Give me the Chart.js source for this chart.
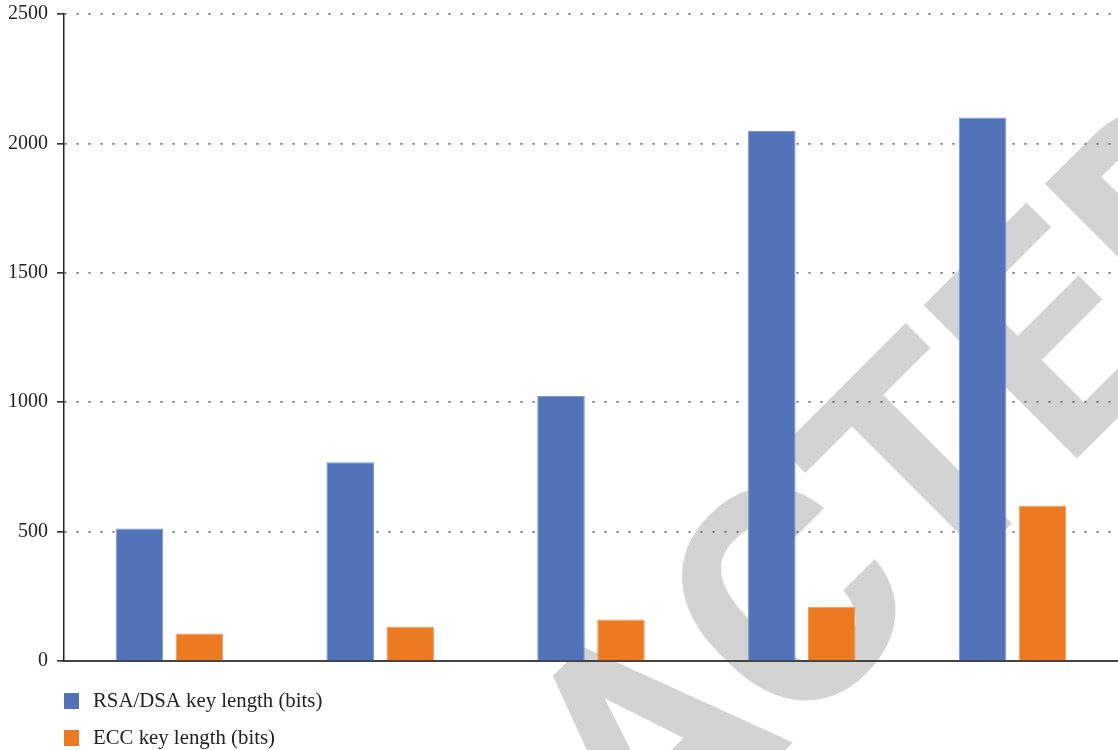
<!DOCTYPE html>
<html>
<head>
<meta charset="utf-8">
<script src="https://cdn.jsdelivr.net/npm/chart.js@4/dist/chart.umd.min.js"></script>
<style>
  html, body { margin: 0; padding: 0; background: #ffffff; }
  #wrap { position: relative; width: 1118px; height: 750px; }
  canvas { display: block; }
</style>
</head>
<body>
<div id="wrap"><canvas id="c" width="1118" height="750"></canvas></div>
<script>
// ---- data ----
const categories = ["1", "2", "3", "4", "5"];
const rsaLabel = "RSA/DSA key length (bits)";
const eccLabel = "ECC key length (bits)";
const rsaValues = [512, 768, 1024, 2048, 2100];
const eccValues = [106, 132, 160, 210, 600];
const yTicks = [0, 500, 1000, 1500, 2000, 2500];
const watermarkText = "RETRACTED";

const serif = "'Liberation Serif', 'Times New Roman', serif";
const wmFamily = "Roboto, 'Liberation Sans', Arial, sans-serif";

const watermarkPlugin = {
  id: 'watermark',
  beforeDraw(chart) {
    const ctx = chart.ctx;
    ctx.save();
    // size the watermark so that the glyph "T" is ~180px wide
    ctx.font = "bold 100px " + wmFamily;
    const t100 = ctx.measureText('T');
    const tw100 = t100.actualBoundingBoxRight + t100.actualBoundingBoxLeft;
    const size = 100 * 180 / tw100;
    ctx.font = "bold " + size + "px " + wmFamily;
    const pre = ctx.measureText('RETRAC').width;
    const tm = ctx.measureText('T');
    const tCenter = (tm.actualBoundingBoxRight - tm.actualBoundingBoxLeft) / 2;
    const startU = 328.6 - (pre + tCenter);
    const baseV = 866.5 + tm.actualBoundingBoxAscent;
    ctx.rotate(-Math.PI / 4);
    ctx.fillStyle = '#d3d3d3';
    ctx.textAlign = 'left';
    ctx.textBaseline = 'alphabetic';
    ctx.fillText(watermarkText, startU, baseV);
    ctx.restore();
  }
};

const legendPlugin = {
  id: 'stackLegend',
  afterDraw(chart) {
    const ctx = chart.ctx;
    ctx.save();
    chart.data.datasets.forEach((ds, i) => {
      const y = 693 + i * 37;
      ctx.fillStyle = ds.backgroundColor;
      ctx.fillRect(64, y, 15, 16);
      ctx.fillStyle = '#222';
      ctx.font = "20.8px " + serif;
      ctx.textAlign = 'left';
      ctx.textBaseline = 'alphabetic';
      ctx.fillText(ds.label, 93, y + 14);
    });
    ctx.restore();
  }
};

new Chart(document.getElementById('c'), {
  type: 'bar',
  data: {
    labels: categories,
    datasets: [
      { label: rsaLabel, data: rsaValues, backgroundColor: '#5273b9', borderColor: '#7e98cf', borderWidth: 1,
        categoryPercentage: 0.569, barPercentage: 0.793 },
      { label: eccLabel, data: eccValues, backgroundColor: '#ec7a23', borderColor: '#f29c5c', borderWidth: 1,
        categoryPercentage: 0.569, barPercentage: 0.793 }
    ]
  },
  options: {
    responsive: false,
    animation: false,
    layout: { padding: { top: 14, bottom: 89, left: 0, right: 0 } },
    plugins: { legend: { display: false }, tooltip: { enabled: false } },
    scales: {
      x: {
        ticks: { display: false },
        grid: { display: false, drawTicks: false },
        border: { display: true, color: '#444', width: 2 },
        afterFit(s) { s.height = 0; }
      },
      y: {
        min: 0, max: 2500,
        afterBuildTicks(s) { s.ticks = yTicks.map(v => ({ value: v })); },
        afterFit(s) { s.width = 64; s.paddingTop = 0; s.paddingBottom = 0; },
        ticks: { color: '#222', font: { family: serif, size: 20 }, padding: 9,
                 callback: (v) => String(v) },
        grid: {
          color: '#6a6a6a', lineWidth: 1.7,
          tickLength: 7, tickColor: '#222', tickWidth: 1.5, tickBorderDash: []
        },
        border: { display: true, color: '#222', width: 1.5, dash: [2, 10] }
      }
    }
  },
  plugins: [watermarkPlugin, legendPlugin]
});
</script>
</body>
</html>
